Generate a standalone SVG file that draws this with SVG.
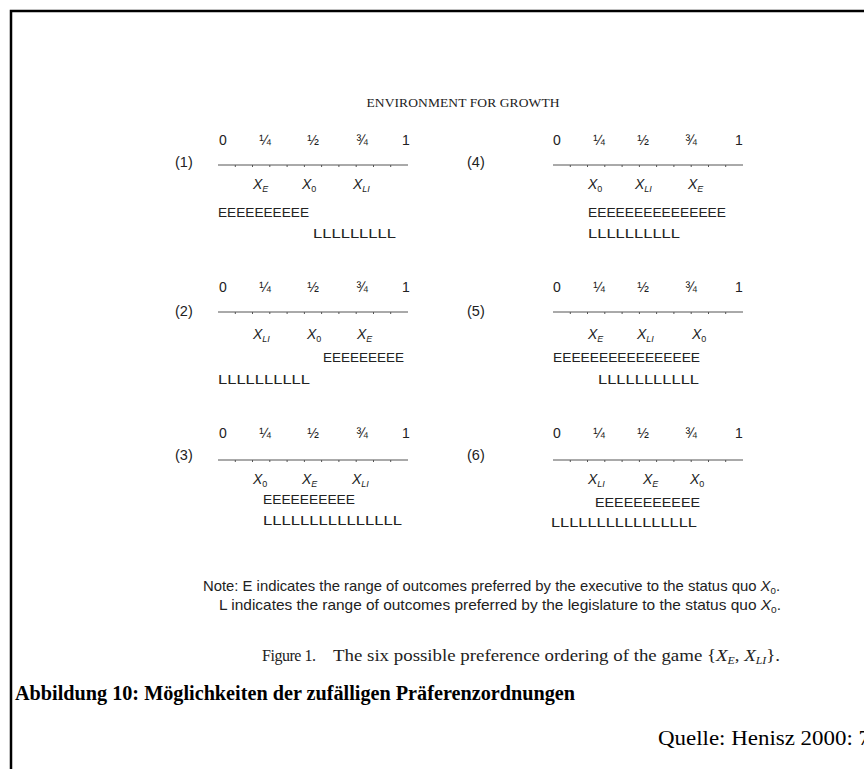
<svg xmlns="http://www.w3.org/2000/svg" width="864" height="769" viewBox="0 0 864 769">
<style>
.s{font-family:"Liberation Sans",Arial,sans-serif;fill:#222}
.num{font-size:14px;text-anchor:middle}
.lab{font-size:14.5px}
.x{font-size:14px;font-style:italic}
.sub{font-size:9px}
.up{font-style:normal}
.row{font-size:13px}
.serif{font-family:"Liberation Serif","Times New Roman",serif;fill:#222}
.ax{stroke:#555;stroke-width:1;fill:none}
.tk{stroke:#555;stroke-width:1}
</style>
<defs>
<g id="axisL">
<line class="ax" x1="0" y1="0" x2="190" y2="0"/>
<path class="tk" d="M17.3,0v2M34.5,0v2M51.8,0v2M69.1,0v2M86.4,0v2M103.6,0v2M120.9,0v2M138.2,0v2M155.5,0v2M172.7,0v2"/>
</g>
</defs>
<g id="border" fill="none" stroke="#000" stroke-width="2.5">
<path d="M11,769V11H864"/>
</g>
<text id="title" class="serif" x="463" y="107" font-size="13.5" text-anchor="middle" textLength="193">ENVIRONMENT FOR GROWTH</text>

<g id="axes">
<use href="#axisL" x="218" y="165"/>
<use href="#axisL" x="218" y="312"/>
<use href="#axisL" x="218" y="460"/>
<use href="#axisL" x="553" y="165"/>
<use href="#axisL" x="553" y="312"/>
<use href="#axisL" x="553" y="460"/>
</g>

<g id="panel1" class="s">
<text class="lab" x="175" y="167">(1)</text>
<text class="num" y="145"><tspan x="223">0</tspan><tspan x="265">¼</tspan><tspan x="313">½</tspan><tspan x="362">¾</tspan><tspan x="406">1</tspan></text>
<text class="x" x="253" y="189">X<tspan class="sub" dy="3">E</tspan></text>
<text class="x" x="302" y="189">X<tspan class="sub up" dy="3">0</tspan></text>
<text class="x" x="353" y="189">X<tspan class="sub" dy="3">LI</tspan></text>
<text class="row" x="218" y="217" textLength="91" lengthAdjust="spacingAndGlyphs">EEEEEEEEEE</text>
<text class="row" x="313" y="238" textLength="83" lengthAdjust="spacingAndGlyphs">LLLLLLLLL</text>
</g>

<g id="panel2" class="s">
<text class="lab" x="175" y="316">(2)</text>
<text class="num" y="292"><tspan x="223">0</tspan><tspan x="265">¼</tspan><tspan x="313">½</tspan><tspan x="362">¾</tspan><tspan x="406">1</tspan></text>
<text class="x" x="253" y="339">X<tspan class="sub" dy="3">LI</tspan></text>
<text class="x" x="307" y="339">X<tspan class="sub up" dy="3">0</tspan></text>
<text class="x" x="357" y="339">X<tspan class="sub" dy="3">E</tspan></text>
<text class="row" x="323" y="362" textLength="81" lengthAdjust="spacingAndGlyphs">EEEEEEEEE</text>
<text class="row" x="218" y="384" textLength="92" lengthAdjust="spacingAndGlyphs">LLLLLLLLLL</text>
</g>

<g id="panel3" class="s">
<text class="lab" x="175" y="460">(3)</text>
<text class="num" y="438"><tspan x="223">0</tspan><tspan x="265">¼</tspan><tspan x="313">½</tspan><tspan x="362">¾</tspan><tspan x="406">1</tspan></text>
<text class="x" x="253" y="484">X<tspan class="sub up" dy="3">0</tspan></text>
<text class="x" x="302" y="484">X<tspan class="sub" dy="3">E</tspan></text>
<text class="x" x="352" y="484">X<tspan class="sub" dy="3">LI</tspan></text>
<text class="row" x="263" y="504" textLength="92" lengthAdjust="spacingAndGlyphs">EEEEEEEEEE</text>
<text class="row" x="263" y="525" textLength="139" lengthAdjust="spacingAndGlyphs">LLLLLLLLLLLLLLL</text>
</g>

<g id="panel4" class="s">
<text class="lab" x="467" y="167">(4)</text>
<text class="num" y="145"><tspan x="557">0</tspan><tspan x="599">¼</tspan><tspan x="643">½</tspan><tspan x="691">¾</tspan><tspan x="739">1</tspan></text>
<text class="x" x="588" y="189">X<tspan class="sub up" dy="3">0</tspan></text>
<text class="x" x="635" y="189">X<tspan class="sub" dy="3">LI</tspan></text>
<text class="x" x="688" y="189">X<tspan class="sub" dy="3">E</tspan></text>
<text class="row" x="588" y="217" textLength="138" lengthAdjust="spacingAndGlyphs">EEEEEEEEEEEEEEE</text>
<text class="row" x="588" y="238" textLength="92" lengthAdjust="spacingAndGlyphs">LLLLLLLLLL</text>
</g>

<g id="panel5" class="s">
<text class="lab" x="467" y="316">(5)</text>
<text class="num" y="292"><tspan x="557">0</tspan><tspan x="599">¼</tspan><tspan x="643">½</tspan><tspan x="691">¾</tspan><tspan x="739">1</tspan></text>
<text class="x" x="588" y="339">X<tspan class="sub" dy="3">E</tspan></text>
<text class="x" x="637" y="339">X<tspan class="sub" dy="3">LI</tspan></text>
<text class="x" x="692" y="339">X<tspan class="sub up" dy="3">0</tspan></text>
<text class="row" x="553" y="362" textLength="147" lengthAdjust="spacingAndGlyphs">EEEEEEEEEEEEEEEE</text>
<text class="row" x="598" y="384" textLength="101" lengthAdjust="spacingAndGlyphs">LLLLLLLLLLL</text>
</g>

<g id="panel6" class="s">
<text class="lab" x="467" y="460">(6)</text>
<text class="num" y="438"><tspan x="557">0</tspan><tspan x="599">¼</tspan><tspan x="643">½</tspan><tspan x="691">¾</tspan><tspan x="739">1</tspan></text>
<text class="x" x="588" y="484">X<tspan class="sub" dy="3">LI</tspan></text>
<text class="x" x="643" y="484">X<tspan class="sub" dy="3">E</tspan></text>
<text class="x" x="690" y="484">X<tspan class="sub up" dy="3">0</tspan></text>
<text class="row" x="595" y="507" textLength="105" lengthAdjust="spacingAndGlyphs">EEEEEEEEEEE</text>
<text class="row" x="551" y="527" textLength="146" lengthAdjust="spacingAndGlyphs">LLLLLLLLLLLLLLLL</text>
</g>

<g id="note" class="s" font-size="14.5">
<text x="203" y="591" textLength="577" lengthAdjust="spacingAndGlyphs">Note: E indicates the range of outcomes preferred by the executive to the status quo <tspan font-style="italic">X</tspan><tspan font-size="9.5" dy="3">0</tspan><tspan dy="-3">.</tspan></text>
<text x="219" y="610" textLength="562" lengthAdjust="spacingAndGlyphs">L indicates the range of outcomes preferred by the legislature to the status quo <tspan font-style="italic">X</tspan><tspan font-size="9.5" dy="3">0</tspan><tspan dy="-3">.</tspan></text>
</g>

<g id="caption" class="serif" font-size="16">
<text x="262" y="661" textLength="54">Figure 1.</text>
<text x="333" y="661" textLength="447" lengthAdjust="spacingAndGlyphs">The six possible preference ordering of the game {<tspan font-style="italic">X</tspan><tspan font-style="italic" font-size="10" dy="3">E</tspan><tspan dy="-3">, </tspan><tspan font-style="italic">X</tspan><tspan font-style="italic" font-size="10" dy="3">LI</tspan><tspan dy="-3">}.</tspan></text>
</g>

<g id="footer" class="serif">
<text x="15" y="700" font-size="20" font-weight="bold" textLength="560" lengthAdjust="spacingAndGlyphs" style="fill:#000">Abbildung 10: Möglichkeiten der zufälligen Präferenzordnungen</text>
<text x="658" y="745" font-size="20" textLength="212" lengthAdjust="spacingAndGlyphs" style="fill:#000">Quelle: Henisz 2000: 7</text>
</g>
</svg>
